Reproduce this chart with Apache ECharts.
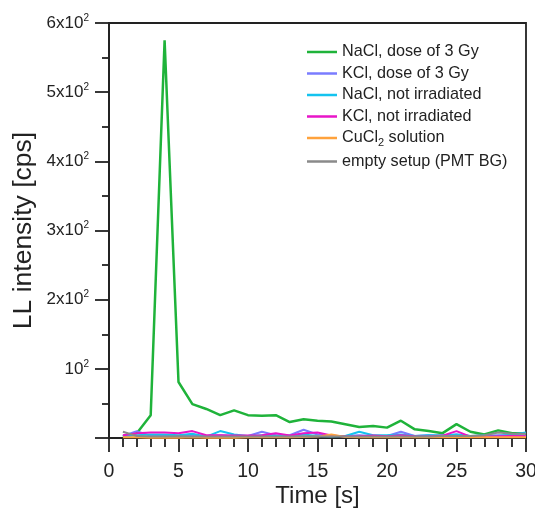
<!DOCTYPE html>
<html><head><meta charset="utf-8">
<script src="https://cdn.jsdelivr.net/npm/echarts@6/dist/echarts.min.js"></script>
<style>html,body{margin:0;padding:0;background:#fff}#c{width:535px;height:509px}</style>
</head><body><div id="c"></div>
<script>
const times = [1,2,3,4,5,6,7,8,9,10,11,12,13,14,15,16,17,18,19,20,21,22,23,24,25,26,27,28,29,30];
const naclDose = [2,7,33,575,81,49,42,33,40,33,32,33,23,27,25,24,20,16,17.5,15,25,12.5,10,7,20,9,5,11,7,7];
const kclDose  = [3,10,3,4,3,4,3,4,3,3,9,4,4,12,5,3,3,4,3,3,9,3,4,3,5,3,3,4,4,3];
const naclNot  = [2,4,5,5,4,6,2,10,5,3,4,3,3,5,3,2,3,9,4,4,5,3,4,4,5,3,4,3,5,8];
const kclNot   = [4,7,8,8,7,10,4,4,3.5,3.6,4,7,3.5,7,8,3.5,2,2.5,3.5,2.5,4,2.5,2,3.5,10,2,2,2.5,3,2.5];
const cucl2    = [1,1,0.5,0.5,0.5,1,0.5,0.5,0.5,1,1,1,1,1.5,2,5,1.5,1,1,1,1,1,1,1,1.5,1,1,1,1,1];
const emptyBG  = [9,3,2,2,2.5,2,2,2,2,2,2,2,2,2.5,2,2,2,2,2,2,2,2,2,3,3,3,4,8,6,6];
const seriesNames = ['NaCl, dose of 3 Gy','KCl, dose of 3 Gy','NaCl, not irradiated','KCl, not irradiated','CuCl2 solution','empty setup (PMT BG)'];
const yTickLabels = {100:'{b|10}{sup|2}',200:'{b|2x10}{sup|2}',300:'{b|3x10}{sup|2}',400:'{b|4x10}{sup|2}',500:'{b|5x10}{sup|2}',600:'{b|6x10}{sup|2}'};

const colors = ['#1fb33a','#7a7cff','#14c3ef','#e815c8','#ffa23c','#8a8a8a'];
const datasets = [naclDose,kclDose,naclNot,kclNot,cucl2,emptyBG];
const font = 'Liberation Sans, Arial, sans-serif';
const chart = echarts.init(document.getElementById('c'));
const series = datasets.map((d,i)=>({
  name: seriesNames[i], type:'line', symbol:'none', showSymbol:false,
  z: i===0 ? 2 : 3,
  data: d.map((v,j)=>[times[j],v]),
  lineStyle:{width: i===0?2.5:2, color: colors[i]}, itemStyle:{color:colors[i]}
}));
chart.setOption({
  animation:false,
  textStyle:{fontFamily:font},
  grid:{left:109,right:9,top:23,bottom:71,outerBoundsMode:'none',containLabel:false,show:true,borderColor:'#222',borderWidth:1.8,backgroundColor:'transparent'},
  legend:{
    orient:'vertical', left:302, top:39, itemWidth:30, itemHeight:2.5, itemGap:5.5,
    textStyle:{fontSize:16.2,color:'#222',fontFamily:font,
      rich:{sub:{fontSize:11,verticalAlign:'bottom',padding:[9,0,0,0],color:'#222',fontFamily:font}}},
    formatter: n => n==='CuCl2 solution' ? 'CuCl{sub|2} solution' : n,
    data: seriesNames.map(n=>({name:n, icon:'rect'}))
  },
  xAxis:{
    type:'value', min:0, max:30, interval:5,
    name:'Time [s]', nameLocation:'middle', nameGap:46, nameMoveOverlap:false,
    nameTextStyle:{fontSize:24,color:'#222',fontFamily:font},
    axisLine:{onZero:false,lineStyle:{color:'#222',width:1.8}},
    axisTick:{show:true,length:14,lineStyle:{color:'#222',width:1.8}},
    minorTick:{show:true,splitNumber:5,length:9,lineStyle:{color:'#222',width:1.8}},
    axisLabel:{fontSize:19.5,color:'#222',margin:24,fontFamily:font},
    splitLine:{show:false}
  },
  yAxis:{
    type:'value', min:0, max:600, interval:100,
    name:'LL intensity [cps]', nameLocation:'middle', nameGap:71.5, nameMoveOverlap:false,
    nameTextStyle:{fontSize:26.5,color:'#222',fontFamily:font},
    axisLine:{show:true,lineStyle:{color:'#222',width:1.8}},
    axisTick:{show:true,length:14,lineStyle:{color:'#222',width:1.8}},
    minorTick:{show:true,splitNumber:2,length:7,lineStyle:{color:'#222',width:1.8}},
    axisLabel:{margin:20,color:'#222',fontFamily:font,
      formatter: v => yTickLabels[v] || '',
      rich:{b:{fontSize:17,color:'#222',fontFamily:font},
            sup:{fontSize:10,color:'#222',verticalAlign:'top',padding:[0,0,10,0],fontFamily:font}}},
    splitLine:{show:false}
  },
  series: series
});
</script></body></html>
